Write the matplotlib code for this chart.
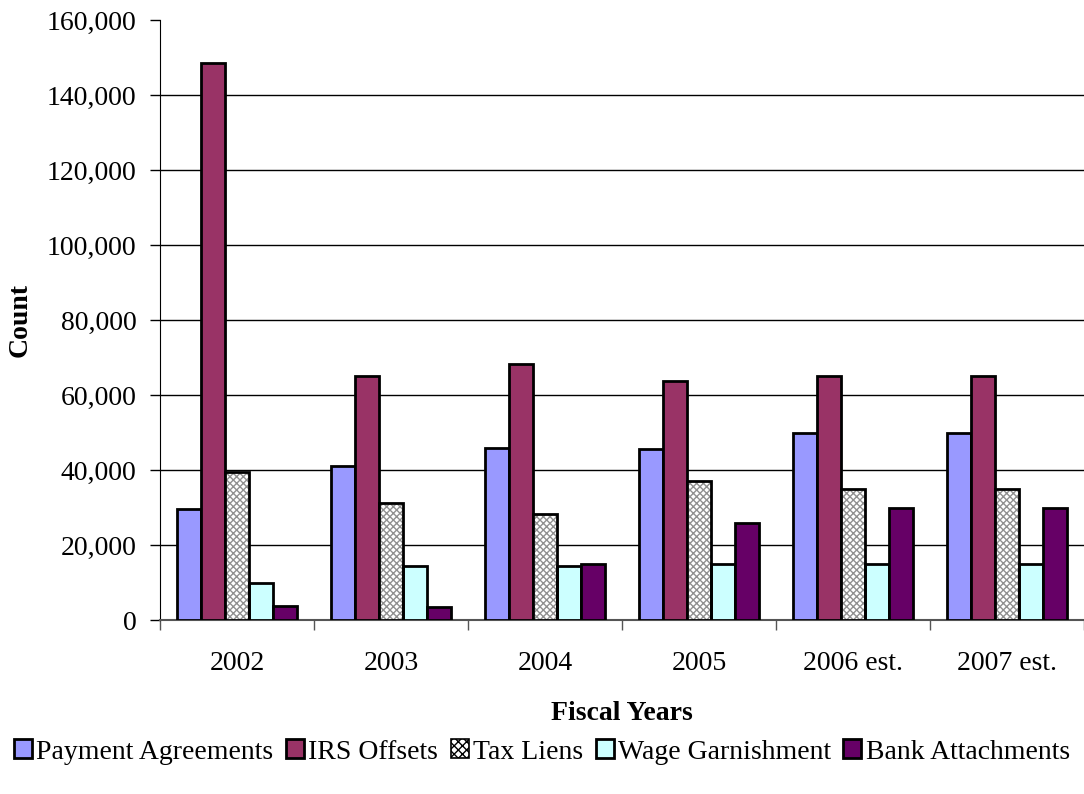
import matplotlib
matplotlib.use("Agg")
import matplotlib.pyplot as plt
import numpy as np
from matplotlib.ticker import FuncFormatter

categories = ["2002", "2003", "2004", "2005", "2006 est.", "2007 est."]
series_names = ["Payment Agreements", "IRS Offsets", "Tax Liens", "Wage Garnishment", "Bank Attachments"]
payment_agreements = [29500, 41000, 46000, 45600, 50000, 50000]
irs_offsets = [148500, 65000, 68200, 63800, 65000, 65000]
tax_liens = [39500, 31200, 28300, 37000, 35000, 35000]
wage_garnishment = [10000, 14500, 14500, 15000, 15000, 15000]
bank_attachments = [3800, 3500, 15000, 26000, 30000, 30000]
yticks = [0, 20000, 40000, 60000, 80000, 100000, 120000, 140000, 160000]

series = [payment_agreements, irs_offsets, tax_liens, wage_garnishment, bank_attachments]
colors = ["#9999FF", "#993366", "#FFFFFF", "#CCFFFF", "#660066"]

plt.rcParams['font.family'] = ['Liberation Serif', 'DejaVu Serif']
plt.rcParams['hatch.linewidth'] = 1.0

FS = 20
fig = plt.figure(figsize=(10.84, 7.94), dpi=100)
ax = fig.add_axes([160/1084, 1 - 620/794, 1 - 160/1084, 600/794])

x = np.arange(len(categories))
w = 0.155
for i, (vals, c, name) in enumerate(zip(series, colors, series_names)):
    pos = x - 2 * w + i * w
    if name == "Tax Liens":
        ax.bar(pos, vals, w, color="white", edgecolor="#909090", hatch="xxxxx", linewidth=0, zorder=3)
        ax.bar(pos, vals, w, fill=False, edgecolor="black", linewidth=2, zorder=4)
        ax.bar([np.nan], [np.nan], w, color="white", edgecolor="black", hatch="xxxx", linewidth=1.2, label=name)
    else:
        ax.bar(pos, vals, w, color=c, edgecolor="black", linewidth=2, zorder=3, label=name)

ax.set_xlim(-0.5, 5.5 + (1084 - 1087) / 154.6)
ax.set_ylim(0, 160000)
ax.set_yticks(yticks)
ax.yaxis.set_major_formatter(FuncFormatter(lambda v, p: f"{int(v):,}"))
ax.set_xticks(x)
ax.set_xticklabels(categories)
ax.set_xticks(np.arange(len(categories) + 1) - 0.5, minor=True)
ax.tick_params(axis='x', which='major', length=0, labelsize=FS, pad=22)
ax.tick_params(axis='x', which='minor', length=7, direction='out', width=1, color='#555555')
ax.tick_params(axis='y', length=7, direction='out', labelsize=FS, pad=10, width=1)

for yv in yticks[1:-1]:
    ax.axhline(yv, color='black', linewidth=1, zorder=1)

for s in ['top', 'right']:
    ax.spines[s].set_visible(False)
ax.spines['left'].set_color('black')
ax.spines['bottom'].set_color('#555555')
ax.spines['bottom'].set_linewidth(1.5)

ax.set_ylabel("Count", fontsize=FS, fontweight='bold', labelpad=10)
ax.set_xlabel("Fiscal Years", fontsize=FS, fontweight='bold', labelpad=18)

handles, labels = ax.get_legend_handles_labels()
fig.legend(handles, labels, loc='center', bbox_to_anchor=(0.5, 1 - 752/794), ncol=5,
           frameon=False, fontsize=FS, handlelength=0.65, handleheight=0.65,
           handletextpad=0.15, columnspacing=0.45, borderaxespad=0)

fig.savefig("out.png", dpi=100)
